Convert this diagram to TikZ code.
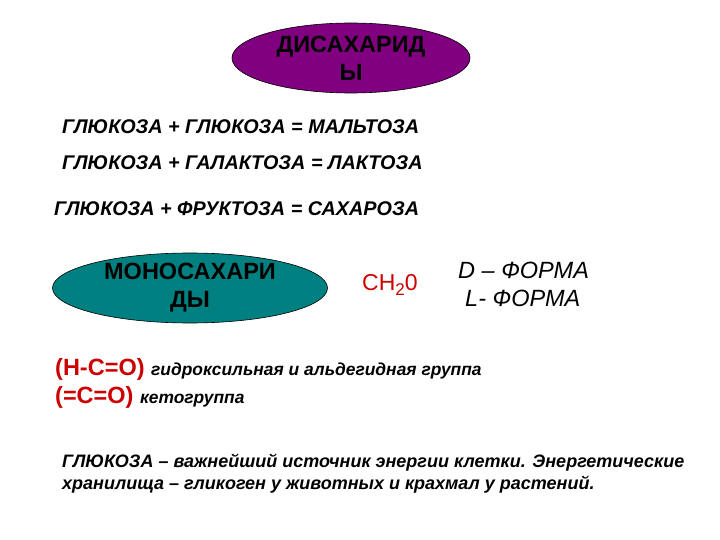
\documentclass[tikz,border=0pt]{standalone}
\usepackage{fontspec}
\setmainfont{Liberation Sans}
\usetikzlibrary{shapes.geometric}
\definecolor{sugarpurple}{RGB}{128,0,128}
\definecolor{sugarteal}{RGB}{0,128,128}
\definecolor{groupred}{RGB}{204,0,0}

\begin{document}
\begin{tikzpicture}[x=1pt,y=-1pt,
  cloud/.style={ellipse,draw=black,line width=0.6pt,inner sep=0pt,
    minimum width=238pt,minimum height=70pt,align=center,
    font=\fontsize{23.5}{28}\selectfont\bfseries},
  sum/.style={anchor=west,inner sep=0pt,font=\fontsize{19.8}{22}\selectfont\bfseries\itshape},
  form/.style={anchor=west,inner sep=0pt,font=\fontsize{23.5}{26}\selectfont\itshape},
  grp/.style={anchor=west,inner sep=0pt,text=groupred,font=\fontsize{23.5}{26}\selectfont\bfseries},
  note/.style={anchor=west,inner sep=0pt,font=\fontsize{18}{22}\selectfont\bfseries\itshape}]
\useasboundingbox (0,0) rectangle (720,540);
% disaccharides
\node[cloud,fill=sugarpurple] (di) at (351,58) {ДИСАХАРИД\\Ы};
\node[sum] (malt) at (62,127) {ГЛЮКОЗА + ГЛЮКОЗА = МАЛЬТОЗА};
\node[sum] (lact) at (62,163) {ГЛЮКОЗА + ГАЛАКТОЗА = ЛАКТОЗА};
\node[sum] (sach) at (54,209) {ГЛЮКОЗА + ФРУКТОЗА = САХАРОЗА};
% monosaccharides
\node[cloud,fill=sugarteal,minimum width=275pt] (mono) at (190,288) {МОНОСАХАРИ\\ДЫ};
\node[anchor=west,inner sep=0pt,text=groupred,font=\fontsize{23}{26}\selectfont] (ch) at (362,285) {CH\raisebox{-5pt}{\fontsize{17}{20}\selectfont 2}0};
\node[form] (dform) at (458,270) {D – ФОРМА};
\node[form] (lform) at (465,298) {L- ФОРМА};
% groups
\node[grp] (ald) at (55,369) {(H-C=O) \textcolor{black}{\fontsize{17.4}{20}\selectfont\itshape гидроксильная и альдегидная группа}};
\node[grp] (ket) at (55,397) {(=C=O) \textcolor{black}{\fontsize{17.4}{20}\selectfont\itshape кетогруппа}};
% glucose note
\node[note,align=left,anchor=north west] (gluc) at (62,454) {ГЛЮКОЗА – важнейший источник энергии клетки. Энергетические\\хранилища – гликоген у животных и крахмал у растений.};
\end{tikzpicture}
\end{document}
